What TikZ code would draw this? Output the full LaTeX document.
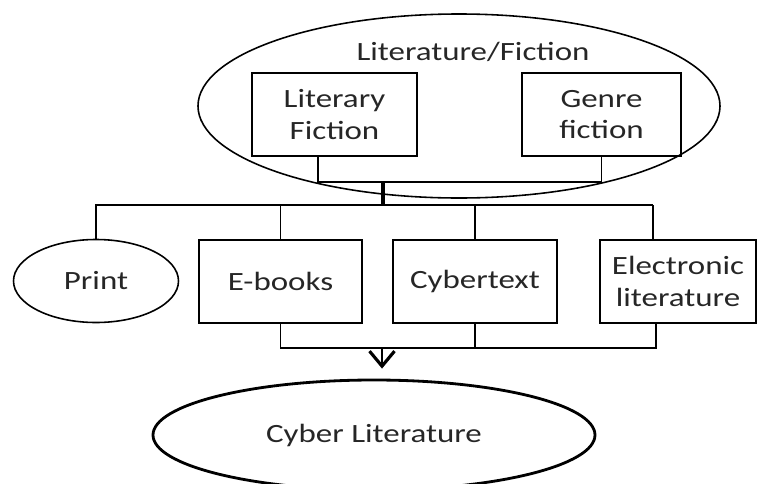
\documentclass[tikz,border=0pt]{standalone}
\usepackage{fontspec}
\setmainfont{Carlito}[FakeStretch=1.25]
\usetikzlibrary{shapes.geometric,arrows.meta}

\tikzset{
  boxnode/.style={draw, line width=0.8pt, minimum height=1.66cm, align=center, inner sep=2pt},
  ovalnode/.style={draw, ellipse, inner sep=0pt, line width=0.9pt},
  link/.style={line width=0.8pt}
}

\begin{document}
\begin{tikzpicture}[x=0.2mm, y=-0.2mm, font=\fontsize{15}{18}\selectfont, text=black!85]

\useasboundingbox (0,0) rectangle (757,484);

% top: the big oval and its two boxes
\node[ovalnode, minimum width=10.44cm, minimum height=3.68cm] (litfic) at (459,106) {};
\node (littitle) at (473,52) {Literature/Fiction};

\node[boxnode, minimum width=3.3cm] (litbox) at (334.5,114.5) {Literary\\Fiction};
\node[boxnode, minimum width=3.18cm] (genbox) at (601.5,114.5) {Genre\\fiction};

\coordinate (j1) at (383,182);
\coordinate (j2) at (383,205);
\coordinate (j3) at (382,348);

\draw[link] ([xshift=-3.3mm]litbox.south) |- (genbox.south |- j1) -- (genbox.south);
\draw[line width=2.6pt] (j1) -- (j2);


% middle row:
\node[ovalnode, minimum width=3.3cm, minimum height=1.66cm] (print) at (96,281) {Print};
\node[boxnode, minimum width=3.26cm] (ebooks) at (280.5,281.5) {E-books};
\node[boxnode, minimum width=3.28cm] (cybtext) at (475,281.5) {Cybertext};
\node[boxnode, minimum width=3.12cm] (eleclit) at (678,281.5) {Electronic\\literature};

\draw[link] (print.north) |- ([xshift=-5mm]eleclit.north |- j2);
\draw[line width=1.4pt] ([xshift=-5mm]eleclit.north |- j2) -- ([xshift=-5mm]eleclit.north);
\draw[link] (ebooks.north) -- (ebooks.north |- j2);
\draw[link] (cybtext.north) -- (cybtext.north |- j2);

\draw[link] (ebooks.south) |- (j3) -| ([xshift=-4.4mm]eleclit.south);
\draw[link] (cybtext.south) -- (cybtext.south |- j3);


% bottom:
\node[ovalnode, line width=1.6pt, minimum width=8.84cm, minimum height=2.2cm] (cyblit) at (374,435) {Cyber Literature};

\draw[line width=1.4pt, -{Straight Barb[length=3mm, width=5mm, line width=1.8pt]}] (j3) -- ([yshift=2mm]cyblit.north -| j3);

\end{tikzpicture}
\end{document}
